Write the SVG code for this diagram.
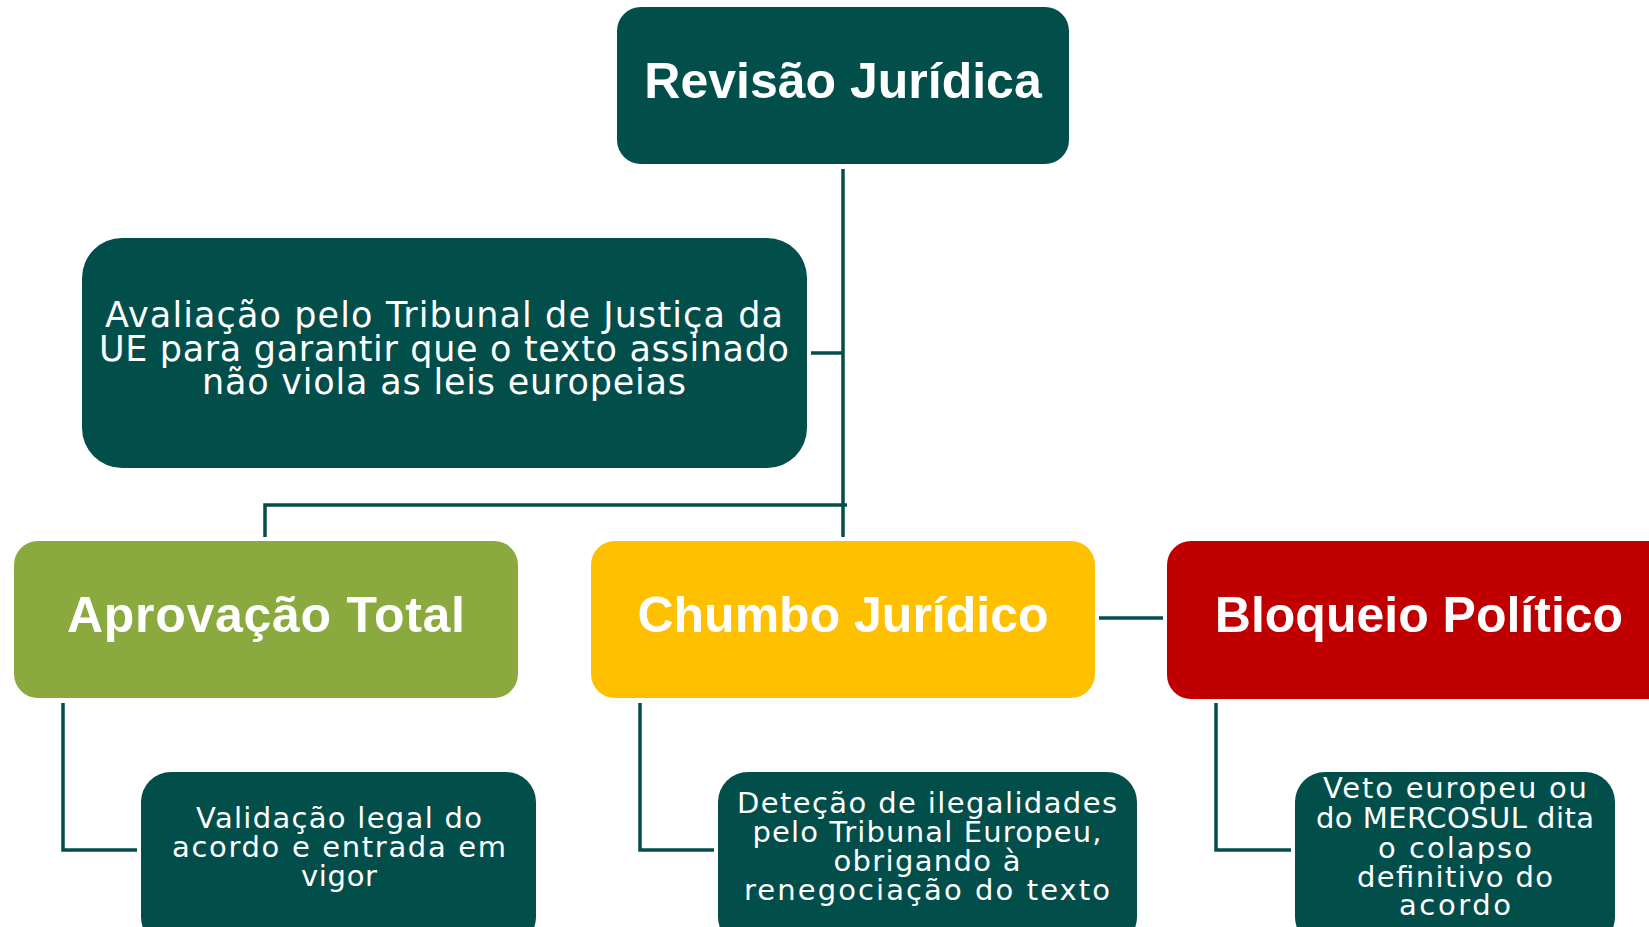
<svg xmlns="http://www.w3.org/2000/svg" width="1649" height="927" viewBox="0 0 1649 927">
  <style>
    .teal { fill: #024E4A; }
    .green { fill: #8AA93F; }
    .yellow { fill: #FFC000; }
    .red { fill: #C00000; }
    .title { font-family: "Liberation Sans", Arial, sans-serif; font-weight: bold; font-size: 50px; fill: #FFFFFF; text-anchor: middle; }
    .desc { font-family: "DejaVu Sans", "Liberation Sans", sans-serif; font-size: 35px; fill: #FFFFFF; text-anchor: middle; }
    .small { font-family: "DejaVu Sans", "Liberation Sans", sans-serif; font-size: 29px; fill: #FFFFFF; text-anchor: middle; }
    .conn { fill: none; stroke: #024E4A; stroke-width: 3.5; stroke-linejoin: miter; stroke-linecap: butt; }
  </style>
  <rect width="1649" height="927" fill="#FFFFFF"/>

  <g id="connectors">
    <path class="conn" d="M843 169 V537"/>
    <path class="conn" d="M811 353 H843"/>
    <path class="conn" d="M265 537 V505 H847"/>
    <path class="conn" d="M1099 618 H1163"/>
    <path class="conn" d="M63 703 V850 H137"/>
    <path class="conn" d="M640 703 V850 H714"/>
    <path class="conn" d="M1216 703 V850 H1291"/>
  </g>

  <g id="node-revisao">
    <rect class="teal" x="617" y="7" width="452" height="157" rx="24"/>
    <text class="title" x="843" y="98">Revisão Jurídica</text>
  </g>

  <g id="node-avaliacao">
    <rect class="teal" x="82" y="238" width="725" height="230" rx="40"/>
    <text class="desc" x="444" y="327" textLength="678" lengthAdjust="spacing">Avaliação pelo Tribunal de Justiça da</text>
    <text class="desc" x="444" y="361" textLength="690" lengthAdjust="spacing">UE para garantir que o texto assinado</text>
    <text class="desc" x="444" y="394" textLength="484" lengthAdjust="spacing">não viola as leis europeias</text>
  </g>

  <g id="node-aprovacao">
    <rect class="green" x="14" y="541" width="504" height="157" rx="24"/>
    <text class="title" x="266" y="632" textLength="398" lengthAdjust="spacing">Aprovação Total</text>
  </g>

  <g id="node-chumbo">
    <rect class="yellow" x="591" y="541" width="504" height="157" rx="24"/>
    <text class="title" x="843" y="632">Chumbo Jurídico</text>
  </g>

  <g id="node-bloqueio">
    <rect class="red" x="1167" y="541" width="520" height="158" rx="24"/>
    <text class="title" x="1419" y="632">Bloqueio Político</text>
  </g>

  <g id="node-validacao">
    <rect class="teal" x="141" y="772" width="395" height="175" rx="30"/>
    <text class="small" x="339" y="828" textLength="286" lengthAdjust="spacing">Validação legal do</text>
    <text class="small" x="339" y="857" textLength="334" lengthAdjust="spacing">acordo e entrada em</text>
    <text class="small" x="339" y="886" textLength="76" lengthAdjust="spacing">vigor</text>
  </g>

  <g id="node-detecao">
    <rect class="teal" x="718" y="772" width="419" height="175" rx="30"/>
    <text class="small" x="927" y="813" textLength="380" lengthAdjust="spacing">Deteção de ilegalidades</text>
    <text class="small" x="927" y="842" textLength="349" lengthAdjust="spacing">pelo Tribunal Europeu,</text>
    <text class="small" x="927" y="871" textLength="187" lengthAdjust="spacing">obrigando à</text>
    <text class="small" x="927" y="900" textLength="366" lengthAdjust="spacing">renegociação do texto</text>
  </g>

  <g id="node-veto">
    <rect class="teal" x="1295" y="772" width="320" height="175" rx="30"/>
    <text class="small" x="1455" y="798" textLength="264" lengthAdjust="spacing">Veto europeu ou</text>
    <text class="small" x="1455" y="828" textLength="278" lengthAdjust="spacing">do MERCOSUL dita</text>
    <text class="small" x="1455" y="858" textLength="154" lengthAdjust="spacing">o colapso</text>
    <text class="small" x="1455" y="887" textLength="196" lengthAdjust="spacing">definitivo do</text>
    <text class="small" x="1455" y="915" textLength="112" lengthAdjust="spacing">acordo</text>
  </g>
</svg>
